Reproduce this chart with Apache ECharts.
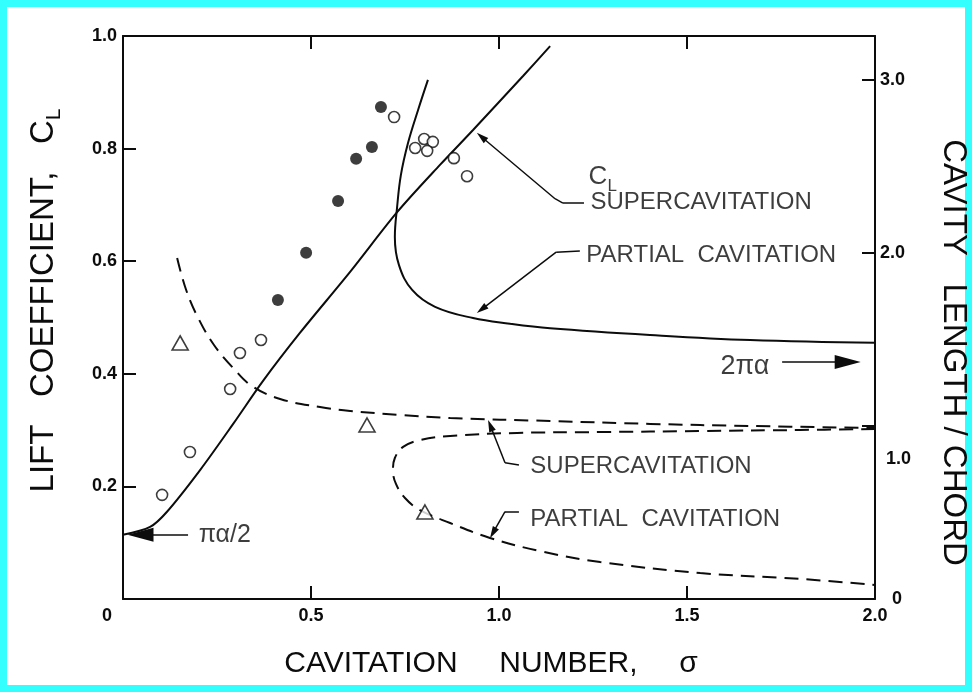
<!DOCTYPE html>
<html>
<head>
<meta charset="utf-8">
<script src="https://cdn.jsdelivr.net/npm/echarts/dist/echarts.min.js"></script>
<style>
  html, body { margin: 0; padding: 0; width: 972px; height: 692px; overflow: hidden; background: #33ffff; }
  #paper { position: absolute; left: 7px; top: 7px; width: 958px; height: 678px; background: #ffffff; }
  #chart { position: absolute; left: 0; top: 0; width: 972px; height: 692px; }
</style>
</head>
<body>
<div id="paper"></div>
<div id="chart"></div>
<script>
// Lift coefficient C_L (left axis) against cavitation number sigma
const liftSupercavitation = [[0, 0.114], [0.072, 0.128], [0.117, 0.155], [0.205, 0.229], [0.293, 0.311], [0.372, 0.387], [0.471, 0.473], [0.604, 0.581], [0.729, 0.687], [0.843, 0.771], [0.931, 0.833], [1.064, 0.929], [1.136, 0.982]];
const liftPartial = [[0.811, 0.922], [0.785, 0.869], [0.758, 0.810], [0.739, 0.753], [0.729, 0.696], [0.723, 0.643], [0.734, 0.593], [0.769, 0.549], [0.830, 0.519], [0.931, 0.499], [1.029, 0.489], [1.136, 0.481], [1.402, 0.469], [1.668, 0.460], [2.0, 0.455]];
// Cavity length / chord (right axis)
const lengthSupercavitation = [[0.144, 1.971], [0.168, 1.786], [0.200, 1.624], [0.242, 1.468], [0.293, 1.335], [0.343, 1.231], [0.418, 1.156], [0.524, 1.110], [0.604, 1.087], [0.737, 1.064], [0.870, 1.046], [1.136, 1.029], [1.402, 1.012], [1.668, 1.000], [2.0, 0.988]];
const lengthPartial = [[2.0, 0.983], [1.801, 0.977], [1.535, 0.971], [1.269, 0.965], [1.048, 0.960], [0.870, 0.942], [0.790, 0.919], [0.745, 0.879], [0.723, 0.815], [0.718, 0.746], [0.726, 0.665], [0.750, 0.584], [0.790, 0.514], [0.870, 0.439], [0.976, 0.353], [1.109, 0.277], [1.269, 0.214], [1.535, 0.150], [1.801, 0.116], [2.0, 0.081]];
// Experimental points
const liftOpen = [[0.104, 0.185], [0.178, 0.261], [0.285, 0.373], [0.311, 0.437], [0.367, 0.460], [0.721, 0.856], [0.777, 0.801], [0.801, 0.817], [0.824, 0.812], [0.809, 0.796], [0.880, 0.783], [0.915, 0.751]];
const liftFilled = [[0.412, 0.531], [0.487, 0.615], [0.572, 0.707], [0.620, 0.782], [0.662, 0.803], [0.686, 0.874]];
const lengthTriangles = [[0.152, 1.480], [0.649, 1.006], [0.803, 0.503]];

// Axis ticks
const sigmaTicks = [0, 0.5, 1.0, 1.5, 2.0];
const liftTicks = [0.2, 0.4, 0.6, 0.8, 1.0];
const lengthTicks = [0, 1, 2, 3];

// Curve annotations (sigma, C_L)
const noteTexts = ['{c|C}{s|L}', 'SUPERCAVITATION', 'PARTIAL  CAVITATION', 'SUPERCAVITATION', 'PARTIAL  CAVITATION', 'πα/2', '2πα'];
const noteAnchors = [[1.237, 0.749], [1.242, 0.705], [1.231, 0.611], [1.082, 0.236], [1.082, 0.142], [0.200, 0.114], [1.588, 0.412]];
const noteSizes = [26, 24, 24, 24, 24, 25, 27];
// Leader lines, first point is the arrow tip
const leaderLines = [
  [[0.941, 0.828], [1.149, 0.711], [1.170, 0.703], [1.226, 0.703]],
  [[0.941, 0.508], [1.152, 0.616], [1.215, 0.618]],
  [[0.971, 0.318], [1.016, 0.242], [1.053, 0.238]],
  [[0.976, 0.108], [1.016, 0.155], [1.053, 0.155]]
];
const pointerArrows = [
  [[0.012, 0.114], [0.173, 0.114]],
  [[1.962, 0.421], [1.753, 0.421]]
];

const FONT = '"Liberation Sans", Arial, Helvetica, sans-serif';
const INK = '#0c0c0c';
const LENGTH_MAX = 3.2543;
const SMALL_HEAD = [7, 12];
const BIG_HEAD = [14, 26];

function tickLabel(extra) {
  return Object.assign({ fontFamily: FONT, fontSize: 18, fontWeight: 'bold', color: INK }, extra || {});
}
function axisLine() {
  return { show: true, onZero: false, lineStyle: { color: INK, width: 2 } };
}
function axisTick() {
  return { show: true, inside: true, length: 13, lineStyle: { color: INK, width: 2 } };
}

const chart = echarts.init(document.getElementById('chart'), null, { renderer: 'canvas' });
chart.setOption({
  animation: false,
  backgroundColor: 'transparent',
  grid: { left: 123, top: 36, right: 97, bottom: 93, outerBoundsMode: 'none' },
  xAxis: [
    {
      type: 'value', position: 'bottom', min: sigmaTicks[0], max: sigmaTicks[sigmaTicks.length - 1], interval: 0.5,
      axisLine: axisLine(), axisTick: axisTick(), splitLine: { show: false },
      axisLabel: tickLabel({
        margin: 8,
        formatter: v => v === 0 ? '{z|0}' : v.toFixed(1),
        rich: { z: tickLabel({ padding: [0, 32, 0, 0] }) }
      }),
      name: 'CAVITATION     NUMBER,     σ', nameLocation: 'middle', nameGap: 50,
      nameTextStyle: { fontFamily: FONT, fontSize: 30, color: INK, padding: [0, 16, 0, 0] }
    },
    {
      type: 'value', position: 'top', min: 0, max: 2, interval: 0.5,
      axisLine: axisLine(), axisTick: axisTick(), axisLabel: { show: false }, splitLine: { show: false }
    }
  ],
  yAxis: [
    {
      type: 'value', position: 'left', min: 0, max: liftTicks[liftTicks.length - 1], interval: 0.2,
      axisLine: axisLine(), axisTick: axisTick(), splitLine: { show: false },
      axisLabel: tickLabel({ margin: 6, formatter: v => v === 0 ? '' : v.toFixed(1) }),
      name: '{t|LIFT   COEFFICIENT,   C}{s|L}', nameLocation: 'middle', nameRotate: 90, nameGap: 58,
      nameTextStyle: {
        padding: [0, 0, 0, 34],
        rich: {
          t: { fontFamily: FONT, fontSize: 33, color: INK, lineHeight: 42 },
          s: { fontFamily: FONT, fontSize: 21, color: INK, verticalAlign: 'bottom' }
        }
      }
    },
    {
      type: 'value', position: 'right', min: 0, max: LENGTH_MAX, interval: 1,
      axisLine: axisLine(), axisTick: axisTick(), splitLine: { show: false },
      axisLabel: tickLabel({
        margin: 5, showMaxLabel: false,
        formatter: v => {
          if (v === 0) return '{z|0}';
          if (Math.abs(v - 1) < 1e-9) return '{d|1.0}';
          return lengthTicks.indexOf(v) >= 0 ? v.toFixed(1) : '';
        },
        rich: {
          z: tickLabel({ padding: [0, 0, 0, 12] }),
          d: tickLabel({ padding: [66, 0, 0, 6] })
        }
      }),
      name: 'CAVITY   LENGTH / CHORD', nameLocation: 'middle', nameRotate: -90, nameGap: 62,
      nameTextStyle: { fontFamily: FONT, fontSize: 33, color: INK, padding: [0, 0, 0, 70] }
    }
  ],
  series: [
    {
      type: 'line', xAxisIndex: 0, yAxisIndex: 0, data: liftSupercavitation, smooth: 0.3,
      showSymbol: false, symbol: 'none', lineStyle: { color: INK, width: 2 }, emphasis: { disabled: true }
    },
    {
      type: 'line', xAxisIndex: 0, yAxisIndex: 0, data: liftPartial, smooth: 0.4,
      showSymbol: false, symbol: 'none', lineStyle: { color: INK, width: 2 }, emphasis: { disabled: true }
    },
    {
      type: 'line', xAxisIndex: 0, yAxisIndex: 1, data: lengthSupercavitation, smooth: 0.4,
      showSymbol: false, symbol: 'none', lineStyle: { color: INK, width: 2, type: [14, 8] }, emphasis: { disabled: true }
    },
    {
      type: 'line', xAxisIndex: 0, yAxisIndex: 1, data: lengthPartial, smooth: 0.4,
      showSymbol: false, symbol: 'none', lineStyle: { color: INK, width: 2, type: [14, 8] }, emphasis: { disabled: true }
    },
    {
      type: 'scatter', xAxisIndex: 0, yAxisIndex: 0, data: liftOpen, symbol: 'circle', symbolSize: 11,
      itemStyle: { color: '#ffffff', borderColor: INK, borderWidth: 1.6 }, emphasis: { disabled: true }, z: 4
    },
    {
      type: 'scatter', xAxisIndex: 0, yAxisIndex: 0, data: liftFilled, symbol: 'circle', symbolSize: 12,
      itemStyle: { color: INK }, emphasis: { disabled: true }, z: 4
    },
    {
      type: 'scatter', xAxisIndex: 0, yAxisIndex: 1, data: lengthTriangles, symbol: 'triangle', symbolSize: [16, 14],
      itemStyle: { color: '#ffffff', borderColor: INK, borderWidth: 1.6 }, emphasis: { disabled: true }, z: 4
    },
    {
      type: 'scatter', xAxisIndex: 0, yAxisIndex: 0, symbolSize: 1, silent: true,
      itemStyle: { color: 'rgba(0,0,0,0)' },
      data: noteAnchors.map((a, i) => ({
        value: a,
        label: {
          show: true, position: 'right', distance: 0,
          formatter: noteTexts[i], fontFamily: FONT, fontSize: noteSizes[i], color: INK,
          rich: {
            c: { fontFamily: FONT, fontSize: 26, color: INK, lineHeight: 34 },
            s: { fontFamily: FONT, fontSize: 17, color: INK, verticalAlign: 'bottom' }
          }
        }
      })),
      z: 5
    },
    {
      id: 'leaders', type: 'line', xAxisIndex: 0, yAxisIndex: 0, data: [], silent: true,
      markLine: {
        silent: true, animation: false, symbol: ['none', 'none'],
        label: { show: false }, emphasis: { disabled: true },
        lineStyle: { color: INK, width: 1.5, type: 'solid' },
        itemStyle: { color: INK },
        data: []
      }
    }
  ]
});

// Build the leader segments; arrow heads are centred on their end point,
// so the last segment stops half a head short of the tip.
const finder = { xAxisIndex: 0, yAxisIndex: 0 };
function segments(points, head) {
  const out = [];
  for (let i = points.length - 1; i > 0; i--) {
    let end = points[i - 1];
    let sym = 'none';
    if (i === 1) {
      const a = chart.convertToPixel(finder, points[1]);
      const b = chart.convertToPixel(finder, points[0]);
      const dx = b[0] - a[0], dy = b[1] - a[1];
      const len = Math.hypot(dx, dy) || 1;
      const back = head[1] / 2;
      end = chart.convertFromPixel(finder, [b[0] - dx / len * back, b[1] - dy / len * back]);
      sym = 'triangle';
    }
    out.push([
      { coord: points[i], symbol: 'none' },
      { coord: end, symbol: sym, symbolSize: head }
    ]);
  }
  return out;
}
const markData = [];
leaderLines.forEach(p => markData.push(...segments(p, SMALL_HEAD)));
pointerArrows.forEach(p => markData.push(...segments(p, BIG_HEAD)));
chart.setOption({ series: [{ id: 'leaders', markLine: { data: markData } }] });
</script>
</body>
</html>
